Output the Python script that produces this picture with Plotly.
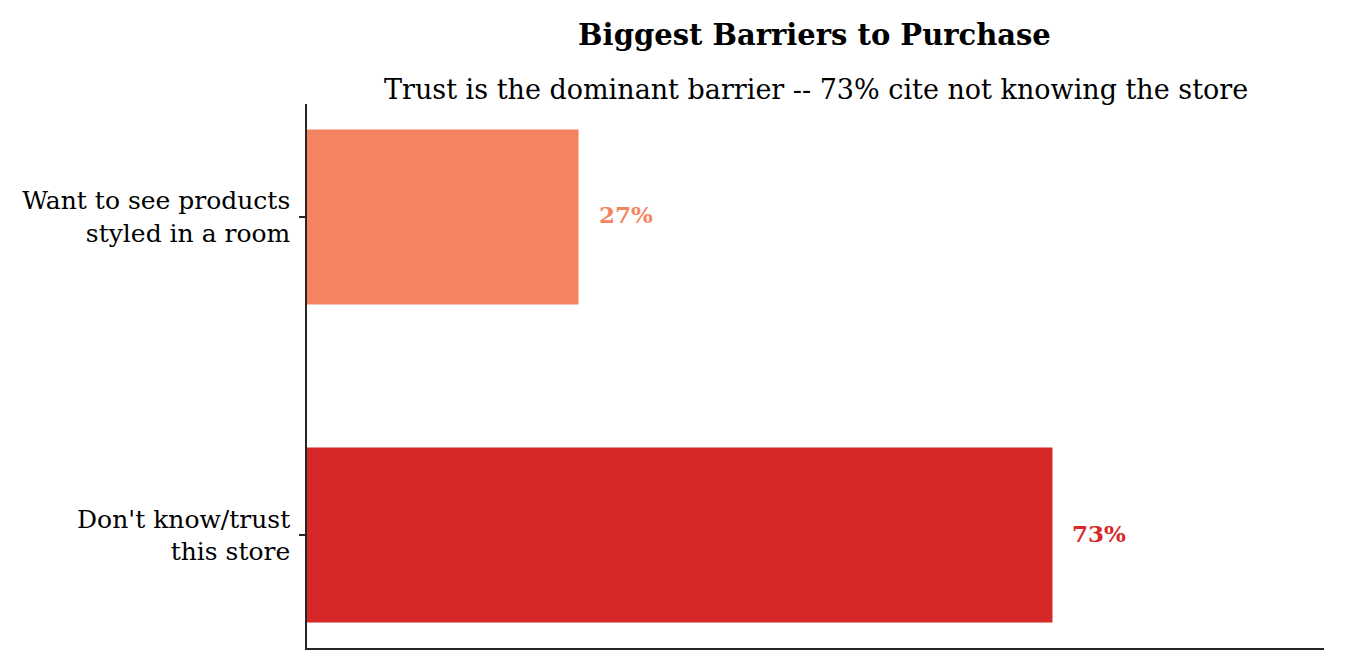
import plotly.graph_objects as go

# barrier categories (bottom to top) and share of respondents (%)
barriers = ["Don't know/trust<br>this store", "Want to see products<br>styled in a room"]
shares = [73.3, 26.7]
share_labels = ["73%", "27%"]
bar_colors = ["#D62828", "#F4845F"]

fig = go.Figure()
fig.add_trace(go.Bar(x=shares, y=barriers, orientation="h",
                     marker=dict(color=bar_colors, line=dict(width=0)),
                     width=0.55, hoverinfo="skip"))

# value labels just past the bar ends
for val, lab, col, cat in zip(shares, share_labels, bar_colors, barriers):
    fig.add_annotation(x=val, y=cat, text="<b>" + lab + "</b>", showarrow=False,
                       xanchor="left", yanchor="middle", xshift=18, yshift=2,
                       font=dict(family="DejaVu Serif", size=23, color=col))

# subtitle
fig.add_annotation(x=0.5, y=1.0, xref="paper", yref="paper", yshift=15,
                   text="Trust is the dominant barrier -- 73% cite not knowing the store",
                   showarrow=False, xanchor="center", yanchor="middle",
                   font=dict(family="DejaVu Serif", size=27, color="black"))

fig.update_layout(
    width=1345, height=670,
    margin=dict(l=299, r=29, t=96, b=30),
    plot_bgcolor="white", paper_bgcolor="white",
    showlegend=False,
    font=dict(family="DejaVu Serif", color="black"),
    title=dict(text="<b>Biggest Barriers to Purchase</b>", x=0.5996, xanchor="center",
               y=1 - 27 / 670, yanchor="middle",
               font=dict(family="DejaVu Serif", size=29, color="black")),
)
fig.update_xaxes(range=[0, 100], showticklabels=False, ticks="", showgrid=False,
                 zeroline=False, showline=True, linecolor="#262626", linewidth=1.5)
fig.update_yaxes(range=[-0.355, 1.355], showgrid=False, zeroline=False,
                 showline=True, linecolor="#262626", linewidth=1.5,
                 ticks="outside", ticklen=6, tickcolor="#262626", tickwidth=1.5,
                 ticklabelstandoff=4,
                 tickfont=dict(family="DejaVu Serif", size=25, color="black"))

fig.write_html("out.html")
